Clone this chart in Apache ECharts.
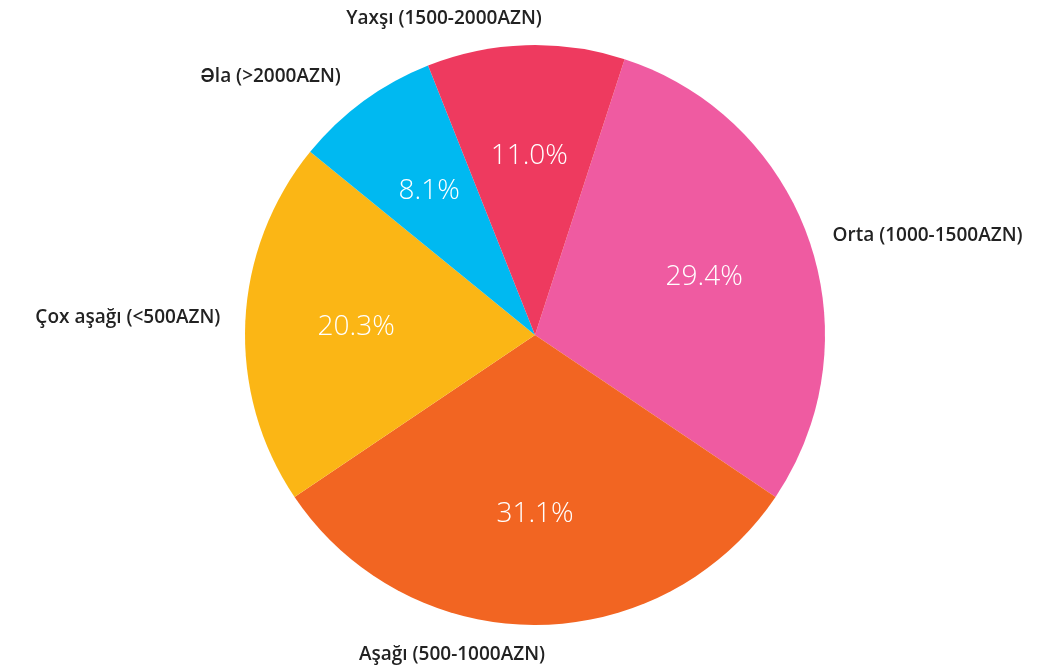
<!DOCTYPE html>
<html>
<head>
<meta charset="utf-8">
<script src="https://cdn.jsdelivr.net/npm/echarts@6/dist/echarts.min.js"></script>
<style>
  html, body { margin: 0; padding: 0; background: #fff; }
  #chart { width: 1051px; height: 670px; }
</style>
</head>
<body>
<div id="chart"></div>
<script>
// gəlir qrupları, saat əqrəbi istiqamətində
const categories = ['Orta (1000-1500AZN)', 'Aşağı (500-1000AZN)', 'Çox aşağı (<500AZN)', 'Əla (>2000AZN)', 'Yaxşı (1500-2000AZN)'];
const shares = [29.4, 31.1, 20.3, 8.1, 11.0];
const colors = ['#ef5ba1', '#f26522', '#fbb615', '#00b9f1', '#ee3a5f'];

const chart = echarts.init(document.getElementById('chart'));

const pieData = categories.map((name, i) => ({
  name: name,
  value: shares[i],
  itemStyle: { color: colors[i] }
}));

const font = '"Open Sans", Inter, sans-serif';

chart.setOption({
  animation: false,
  series: [
    {
      // slices + outside names
      type: 'pie',
      center: [535, 335],
      radius: [0, 290],
      startAngle: 72,
      clockwise: true,
      silent: true,
      avoidLabelOverlap: false,
      label: {
        show: true,
        position: 'outside',
        formatter: '{b}',
        color: '#222',
        fontFamily: font,
        fontWeight: 600,
        fontSize: 19
      },
      labelLine: { show: false, length: 30, length2: 0 },
      // small nudges; top & bottom names sit right-aligned just past the centre line
      labelLayout: p => {
        if (p.dataIndex === 0) return { dx: -10, dy: 5 };
        if (p.dataIndex === 1) return { dx: -p.labelRect.width + 5 };
        if (p.dataIndex === 2) return { dx: 10, dy: -3 };
        if (p.dataIndex === 4) return { dx: 22, dy: 3 };
        return {};
      },
      data: pieData
    },
    {
      // transparent ring, only to place percents further out
      type: 'pie',
      center: [535, 335],
      radius: [62, 290],
      startAngle: 72,
      clockwise: true,
      silent: true,
      itemStyle: { color: 'transparent' },
      label: {
        show: true,
        position: 'inside',
        formatter: p => p.value.toFixed(1) + '%',
        color: '#fff',
        fontFamily: font,
        fontWeight: 300,
        fontSize: 28
      },
      labelLine: { show: false },
      data: shares.map((v, i) => ({ name: categories[i], value: v }))
    }
  ]
});
</script>
</body>
</html>
